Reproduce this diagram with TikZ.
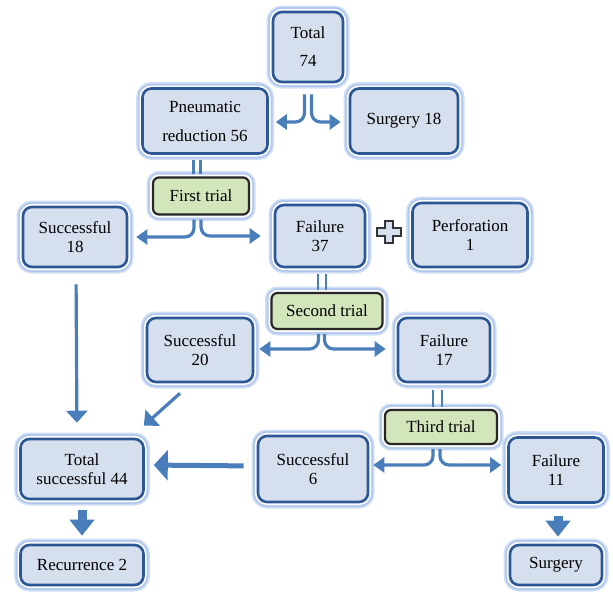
\documentclass[tikz,border=0pt]{standalone}
\usepackage{fontspec}
\setmainfont{Liberation Serif}
\usetikzlibrary{arrows.meta}
\definecolor{boxfill}{HTML}{D6DFEE}
\definecolor{boxdraw}{HTML}{2C5795}
\definecolor{glow}{HTML}{B3C9EE}
\definecolor{greenfill}{HTML}{D3E5BB}
\definecolor{arrblue}{HTML}{4A7EBB}
\tikzset{
  bx/.style={rounded corners=9pt, fill=boxfill, draw=boxdraw, line width=2.6pt,
    preaction={draw=glow!60, line width=13pt},
    preaction={draw=glow, line width=10pt},
    preaction={draw=white, line width=6pt},
    align=center, inner sep=0pt, font=\fontsize{17}{19}\selectfont},
  gbx/.style={bx, fill=greenfill, draw=black!85, line width=2.2pt, rounded corners=6pt},
  fork/.style={draw=arrblue, line width=3.2pt, rounded corners=9pt,
    -{Triangle[width=15pt 0,length=11pt 0]}},
  dbl/.style={draw=arrblue, line width=2.8pt},
  thinarr/.style={draw=arrblue, line width=3.2pt, -{Triangle[width=21pt 0,length=12pt 0]}},
  bigarr/.style={draw=arrblue, line width=5pt, -{Triangle[width=30pt 0,length=14pt 0]}},
  blockarr/.style={draw=arrblue, line width=9pt, -{Triangle[width=24pt 0,length=16pt 0]}},
}
\begin{document}
\begin{tikzpicture}[x=1pt,y=-1pt]
\useasboundingbox (0,0) rectangle (613,592);

\node[bx, minimum width=70, minimum height=70] (total) at (308,47) {Total\\[9pt]74};
\node[bx, minimum width=125, minimum height=65] (pneu) at (205,121) {Pneumatic\\[10pt]reduction 56};
\node[bx, minimum width=108, minimum height=65] (surg18) at (404,121) {Surgery 18};
\node[gbx, minimum width=96, minimum height=37] (first) at (201,196) {First trial};
\node[bx, minimum width=104, minimum height=60] (s18) at (75,237) {Successful\\18};
\node[bx, minimum width=90, minimum height=62] (f37) at (320,236) {Failure\\37};
\node[bx, minimum width=115, minimum height=64] (perf) at (470,235) {Perforation\\1};
\node[gbx, minimum width=111, minimum height=36] (second) at (327,311) {Second trial};
\node[bx, minimum width=106, minimum height=64] (s20) at (200,350) {Successful\\20};
\node[bx, minimum width=92, minimum height=64] (f17) at (444,350) {Failure\\17};
\node[gbx, minimum width=112, minimum height=34] (third) at (441,427) {Third trial};
\node[bx, minimum width=123, minimum height=60] (ts44) at (82,469) {Total\\successful 44};
\node[bx, minimum width=110, minimum height=66] (s6) at (313,469) {Successful\\6};
\node[bx, minimum width=95, minimum height=65] (f11) at (556,470) {Failure\\11};
\node[bx, minimum width=123, minimum height=40] (rec) at (82,565) {Recurrence 2};
\node[bx, minimum width=92, minimum height=40] (surg) at (556,565) {Surgery};

% plus sign
\draw[fill=boxfill, draw=black!80, line width=1.8pt]
  (385,221) -- (393,221) -- (393,228) -- (401,228) -- (401,236) -- (393,236) -- (393,243)
  -- (385,243) -- (385,236) -- (377,236) -- (377,228) -- (385,228) -- cycle;

% forks
\draw[fork, shorten <=11pt, shorten >=7pt] ([xshift=-3.5pt]total.south) |- ([yshift=-1pt]pneu.east);
\draw[fork, shorten <=11pt, shorten >=8pt] ([xshift=3.5pt]total.south) |- ([yshift=-1pt]surg18.west);

\draw[dbl, shorten <=5pt, shorten >=2pt] ([xshift=-11.5pt]pneu.south) -- ([xshift=-7.5pt]first.north);
\draw[dbl, shorten <=5pt, shorten >=2pt] ([xshift=-4.5pt]pneu.south) -- ([xshift=-0.5pt]first.north);
\draw[fork, shorten <=4pt, shorten >=8pt] ([xshift=-7pt]first.south) |- (s18.east);
\draw[fork, shorten <=4pt, shorten >=13pt] ([xshift=0pt]first.south) |- (f37.west);

\draw[dbl, shorten <=6pt, shorten >=2pt] ([xshift=-2pt]f37.south) -- ([xshift=-9pt]second.north);
\draw[dbl, shorten <=6pt, shorten >=2pt] ([xshift=6pt]f37.south) -- ([xshift=-1pt]second.north);
\draw[fork, shorten <=4pt, shorten >=5pt] ([xshift=-8.5pt]second.south) |- ([yshift=1pt]s20.east);
\draw[fork, shorten <=4pt, shorten >=11pt] ([xshift=-2.5pt]second.south) |- ([yshift=1pt]f17.west);

\draw[dbl, shorten <=7pt, shorten >=2pt] ([xshift=-11pt]f17.south) -- ([xshift=-8pt]third.north);
\draw[dbl, shorten <=7pt, shorten >=2pt] ([xshift=-2pt]f17.south) -- ([xshift=1pt]third.north);
\draw[fork, shorten <=4pt, shorten >=4pt] ([xshift=-8pt]third.south) |- ([yshift=4pt]s6.east);
\draw[fork, shorten <=4pt, shorten >=6pt] ([xshift=-1pt]third.south) |- ([yshift=5pt]f11.west);

% arrows to total successful
\draw[thinarr, shorten <=16pt, shorten >=15pt] ([xshift=1pt]s18.south) -- ([xshift=-5pt]ts44.north);
\draw[thinarr] ([xshift=-20pt,yshift=-10pt]s20.south) -- ([xshift=-1pt,yshift=12pt]ts44.north east);
\draw[bigarr, shorten <=13pt, shorten >=9pt] ([yshift=3pt]s6.west) -- ([yshift=4pt]ts44.east);

% block arrows
\draw[blockarr, shorten <=10pt, shorten >=8pt] (ts44.south) -- (rec.north);
\draw[blockarr, shorten <=12pt, shorten >=7pt] ([xshift=2pt]f11.south) -- ([xshift=2pt]surg.north);
\end{tikzpicture}
\end{document}
